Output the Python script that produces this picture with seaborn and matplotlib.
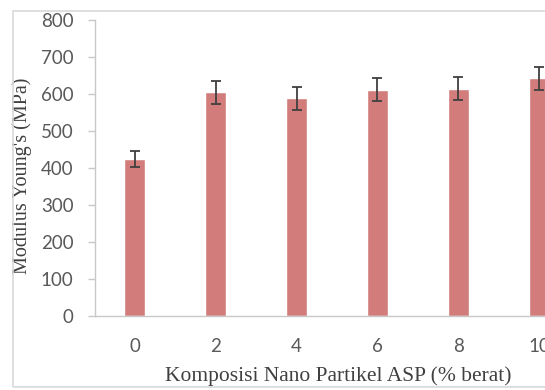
import pandas as pd
import matplotlib
matplotlib.use('Agg')
import matplotlib.pyplot as plt
import matplotlib.patches as patches
import seaborn as sns

# data
komposisi = ['0', '2', '4', '6', '8', '10']
modulus = [424, 605, 588, 611, 614, 642]
error = [21, 31, 30, 31, 31, 30]

df = pd.DataFrame({'Komposisi': komposisi, 'Modulus': modulus})

sns.set_style('white')
plt.rcParams['font.family'] = ['Lato', 'DejaVu Sans']

fig = plt.figure(figsize=(5.45, 3.9), dpi=100)
ax = fig.add_axes([0.1734, 0.1897, 0.890, 0.759])

sns.barplot(data=df, x='Komposisi', y='Modulus', color='#d27c7c', width=0.26,
            saturation=1, ax=ax, errorbar=None)
ax.errorbar(range(len(komposisi)), modulus, yerr=error, fmt='none',
            ecolor='#404040', elinewidth=1.3, capsize=3.6, capthick=1.3)

ax.set_ylim(0, 800)
ax.set_yticks(range(0, 801, 100))
ax.set_xlim(-0.5, len(komposisi) - 0.5)

for s in ['top', 'right']:
    ax.spines[s].set_visible(False)
for s in ['left', 'bottom']:
    ax.spines[s].set_color('#c8c8c8')
    ax.spines[s].set_linewidth(1.0)

ax.tick_params(axis='y', direction='out', length=5, width=1, color='#c8c8c8',
               pad=10, labelsize=13.5, labelcolor='#595959', left=True)
ax.tick_params(axis='x', length=0, pad=16, labelsize=13.5, labelcolor='#595959')

ax.set_xlabel('Komposisi Nano Partikel ASP (% berat)', family='Liberation Serif',
              fontsize=15.5, color='#404040')
ax.set_ylabel("Modulus Young's (MPa)", family='Liberation Serif',
              fontsize=14.5, color='#404040')
ax.yaxis.label.set_verticalalignment('center')
ax.xaxis.label.set_verticalalignment('center')
ax.yaxis.set_label_coords(22 / 545, 1 - 176 / 390, transform=fig.transFigure)
ax.xaxis.set_label_coords(338 / 545, 1 - 376 / 390, transform=fig.transFigure)

# chart area frame
frame = patches.Rectangle((13 / 545, 3 / 390), 1.2, 1 - 14 / 390,
                          transform=fig.transFigure, fill=False,
                          edgecolor='#d9d9d9', linewidth=1.2, zorder=0)
fig.patches.append(frame)

fig.savefig('out.png', dpi=100)
